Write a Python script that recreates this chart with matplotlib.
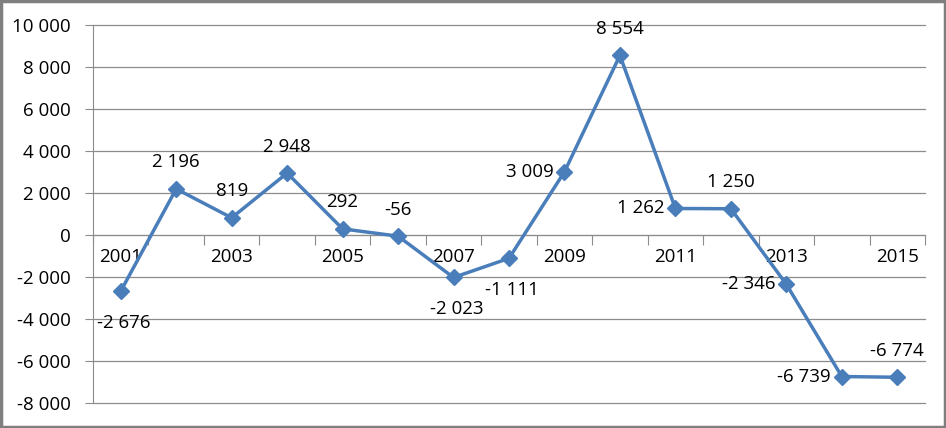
import matplotlib.pyplot as plt
from matplotlib.patches import Rectangle
from matplotlib.ticker import FuncFormatter

years = list(range(2001, 2016))
values = [-2676, 2196, 819, 2948, 292, -56, -2023, -1111, 3009, 8554, 1262, 1250, -2346, -6739, -6774]
# where each data label sits relative to its point: a=above, b=below, l=left
label_pos = ['b', 'a', 'a', 'a', 'a', 'a', 'b', 'b', 'l', 'a', 'l', 'a', 'l', 'l', 'a']
label_years = [2001, 2003, 2005, 2007, 2009, 2011, 2013, 2015]

plt.rcParams['font.family'] = ['Open Sans', 'DejaVu Sans']

def fmt(v):
    s = f"{abs(int(v)):,}".replace(",", " ")
    return ("-" if v < 0 else "") + s

fig = plt.figure(figsize=(9.46, 4.28), dpi=100)
ax = fig.add_axes([0.0983, 0.0584, 0.8795, 0.8832])

blue = '#4a7ebb'
grid_c = '#8c8c8c'
fs = 13.5

ax.plot(years, values, color=blue, lw=2.5, marker='D', markersize=8.5, zorder=3)

ax.set_xlim(years[0] - 0.5, years[-1] + 0.5)
ax.set_ylim(-8000, 10000)
ax.set_yticks(range(-8000, 10001, 2000))
ax.yaxis.set_major_formatter(FuncFormatter(lambda v, p: fmt(v)))
ax.grid(axis='y', color=grid_c, lw=0.9)
for gl in ax.get_ygridlines():
    gl.set_clip_on(False)
ax.set_axisbelow(True)

for s in ['top', 'right']:
    ax.spines[s].set_visible(False)
ax.spines['left'].set_color(grid_c)
ax.spines['bottom'].set_color(grid_c)
ax.spines['bottom'].set_position(('data', 0))

ax.tick_params(axis='y', length=6, color=grid_c, labelsize=fs, pad=10)
# category boundaries as tick marks, labels as minor ticks
ax.set_xticks([y - 0.5 for y in years] + [years[-1] + 0.5])
ax.set_xticklabels([])
ax.tick_params(axis='x', which='major', length=7, color=grid_c, direction='out')
ax.set_xticks(label_years, minor=True)
ax.set_xticklabels([str(y) for y in label_years], minor=True)
ax.tick_params(axis='x', which='minor', length=0, labelsize=fs, pad=9)

offsets = {'a': (0, 19, 'center', 'center'),
           'b': (2, -23, 'center', 'center'),
           'l': (-8, 0, 'right', 'center')}
for x, v, p in zip(years, values, label_pos):
    dx, dy, ha, va = offsets[p]
    ax.annotate(fmt(v), (x, v), xytext=(dx, dy), textcoords='offset points',
                ha=ha, va=va, fontsize=fs)

fig.patches.append(Rectangle((0.0015, 0.0025), 0.997, 0.994, transform=fig.transFigure,
                             fill=False, edgecolor='#7f7f7f', lw=2.5))

fig.savefig('out.png', dpi=100)
